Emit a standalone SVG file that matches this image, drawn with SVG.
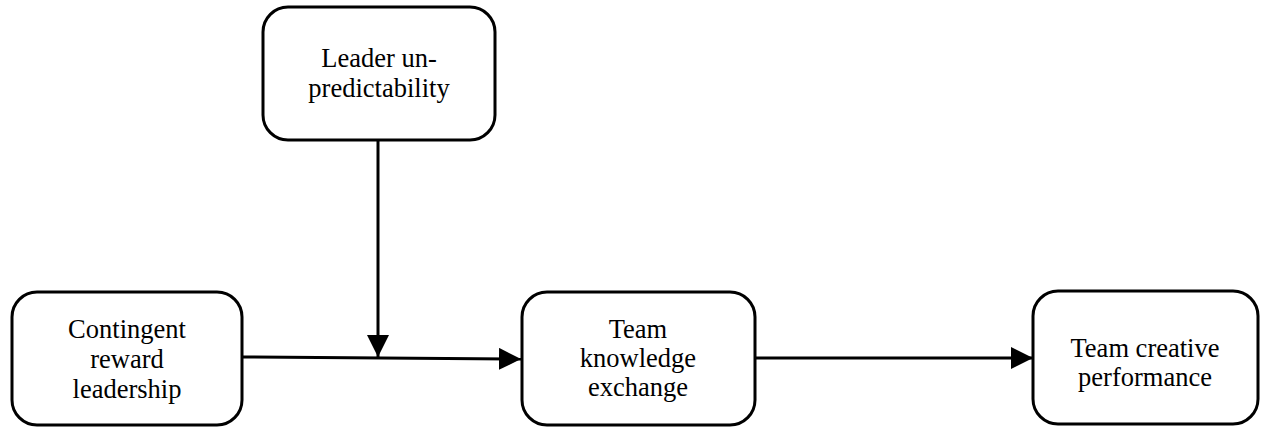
<svg xmlns="http://www.w3.org/2000/svg" width="1263" height="427" viewBox="0 0 1263 427">
<defs>
<style>
.box{fill:#fff;stroke:#000;stroke-width:3}
.lbl{font-family:"Liberation Serif","Times New Roman",serif;font-size:26.5px;fill:#000;text-anchor:middle}
.edge{stroke:#000;stroke-width:3;fill:none}
</style>
<marker id="arr" viewBox="0 0 22 22" refX="22" refY="11" markerWidth="22" markerHeight="22" markerUnits="userSpaceOnUse" orient="auto">
<path d="M0,0 L22,11 L0,22 Z" fill="#000"/>
</marker>
</defs>
<rect width="1263" height="427" fill="#fff"/>
<g id="connectors">
<path class="edge" d="M242,357 L521,359" marker-end="url(#arr)"/>
<path class="edge" d="M378,140 L378,357" marker-end="url(#arr)"/>
<path class="edge" d="M755,358 L1033,358" marker-end="url(#arr)"/>
</g>
<g id="node-leader-unpredictability">
<rect class="box" x="263" y="7" width="232" height="133" rx="25"/>
<text class="lbl" x="379" y="67">Leader un-</text>
<text class="lbl" x="379" y="97">predictability</text>
</g>
<g id="node-contingent-reward">
<rect class="box" x="12" y="292" width="230" height="133" rx="25"/>
<text class="lbl" x="127" y="338">Contingent</text>
<text class="lbl" x="127" y="368">reward</text>
<text class="lbl" x="127" y="398">leadership</text>
</g>
<g id="node-team-knowledge">
<rect class="box" x="522" y="292" width="233" height="133" rx="25"/>
<text class="lbl" x="638" y="338">Team</text>
<text class="lbl" x="638" y="367">knowledge</text>
<text class="lbl" x="638" y="396">exchange</text>
</g>
<g id="node-team-creative">
<rect class="box" x="1033" y="291" width="225" height="133" rx="25"/>
<text class="lbl" x="1145" y="357">Team creative</text>
<text class="lbl" x="1145" y="386">performance</text>
</g>
</svg>
